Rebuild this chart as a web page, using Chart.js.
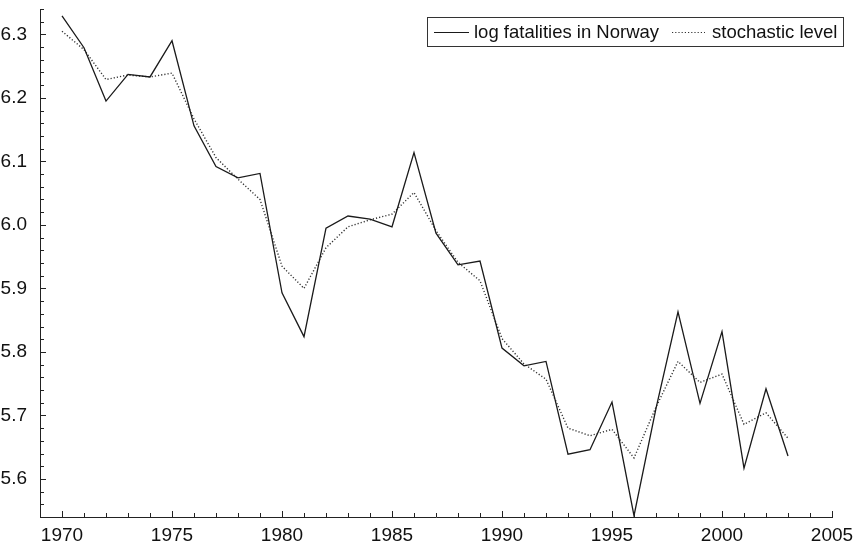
<!DOCTYPE html>
<html>
<head>
<meta charset="utf-8">
<script src="https://cdn.jsdelivr.net/npm/chart.js@4/dist/chart.umd.min.js"></script>
<style>
  html, body { margin: 0; padding: 0; background: #fff; }
  #wrap { width: 861px; height: 546px; }
</style>
</head>
<body>
<div id="wrap"><canvas id="chart"></canvas></div>
<script>
const years = [1970, 1971, 1972, 1973, 1974, 1975, 1976, 1977, 1978, 1979,
  1980, 1981, 1982, 1983, 1984, 1985, 1986, 1987, 1988, 1989,
  1990, 1991, 1992, 1993, 1994, 1995, 1996, 1997, 1998, 1999,
  2000, 2001, 2002, 2003]

const logFatalities = [6.329, 6.279, 6.195, 6.237, 6.233, 6.290, 6.156, 6.092, 6.074, 6.081,
  5.893, 5.824, 5.995, 6.014, 6.009, 5.997, 6.114, 5.987, 5.937, 5.943,
  5.806, 5.778, 5.785, 5.639, 5.646, 5.721, 5.542, 5.711, 5.863, 5.719,
  5.832, 5.617, 5.742, 5.636]

const stochasticLevel = [6.305, 6.276, 6.229, 6.236, 6.233, 6.239, 6.167, 6.106, 6.072, 6.040,
  5.935, 5.900, 5.964, 5.997, 6.008, 6.017, 6.051, 5.991, 5.941, 5.912,
  5.821, 5.781, 5.757, 5.680, 5.668, 5.678, 5.633, 5.713, 5.785, 5.752,
  5.765, 5.686, 5.704, 5.664]

const xTicks = [1970, 1975, 1980, 1985, 1990, 1995, 2000, 2005]
const yTicks = [5.6, 5.7, 5.8, 5.9, 6.0, 6.1, 6.2, 6.3]

const FONT = "'Liberation Sans', Arial, Helvetica, sans-serif"

// inward tick marks, minor every year / every 0.02
const innerTicks = {
  id: "innerTicks",
  afterDraw(chart) {
    const { ctx, chartArea: a, scales: { x, y } } = chart
    ctx.save()
    ctx.strokeStyle = "#222"
    ctx.lineWidth = 1
    ctx.beginPath()
    for (let yr = 1970; yr <= 2005; yr++) {
      const px = Math.round(x.getPixelForValue(yr)) + 0.5
      const len = yr % 5 === 0 ? 6 : 4
      ctx.moveTo(px, a.bottom)
      ctx.lineTo(px, a.bottom - len)
    }
    for (let i = 0; i <= 40; i++) {
      const v = 5.54 + i * 0.02
      const py = Math.round(y.getPixelForValue(v)) + 0.5
      const len = i % 5 === 3 ? 6 : 4
      ctx.moveTo(a.left, py)
      ctx.lineTo(a.left + len, py)
    }
    ctx.stroke()
    ctx.restore()
  }
}

// boxed legend in the upper right
const boxLegend = {
  id: "boxLegend",
  afterDraw(chart) {
    const ctx = chart.ctx
    const left = 427.5, top = 17.5, w = 416, h = 29
    ctx.save()
    ctx.fillStyle = "#fff"
    ctx.fillRect(left, top, w, h)
    ctx.strokeStyle = "#333"
    ctx.lineWidth = 1
    ctx.strokeRect(left, top, w, h)
    ctx.font = "18.5px " + FONT
    ctx.fillStyle = "#111"
    ctx.textBaseline = "middle"
    const cy = top + h / 2
    const items = [
      { x: 434, lineW: 35, textX: 474 },
      { x: 672, lineW: 33, textX: 712 }
    ]
    chart.data.datasets.forEach((ds, i) => {
      const it = items[i]
      ctx.beginPath()
      ctx.setLineDash(ds.borderDash || [])
      ctx.lineWidth = 1
      ctx.strokeStyle = ds.borderColor
      ctx.moveTo(it.x, Math.round(cy) + 0.5)
      ctx.lineTo(it.x + it.lineW, Math.round(cy) + 0.5)
      ctx.stroke()
      ctx.setLineDash([])
      ctx.fillText(ds.label, it.textX, cy + 1)
    })
    ctx.restore()
  }
}

new Chart(document.getElementById("chart"), {
  type: "line",
  data: {
    datasets: [
      {
        label: "log fatalities in Norway",
        data: years.map((yr, i) => ({ x: yr, y: logFatalities[i] })),
        borderColor: "#1a1a1a",
        borderWidth: 1.3,
        pointRadius: 0,
        tension: 0
      },
      {
        label: "stochastic level",
        data: years.map((yr, i) => ({ x: yr, y: stochasticLevel[i] })),
        borderColor: "#333",
        borderWidth: 1.4,
        borderDash: [1.2, 2],
        pointRadius: 0,
        tension: 0
      }
    ]
  },
  options: {
    responsive: true,
    maintainAspectRatio: false,
    animation: false,
    events: [],
    layout: { padding: { top: 9, right: 29, left: 0, bottom: 0 } },
    scales: {
      x: {
        type: "linear",
        min: 1969,
        max: 2005,
        afterBuildTicks: (s) => { s.ticks = xTicks.map(v => ({ value: v })) },
        afterFit: (s) => {
          s.height = 29
          s.paddingLeft = 0
          s.paddingRight = 0
        },
        grid: { display: false },
        border: { display: true, color: "#222", width: 1 },
        ticks: {
          color: "#111",
          font: { family: FONT, size: 19 },
          padding: -1,
          maxRotation: 0,
          autoSkip: false,
          callback: (v) => String(v)
        }
      },
      y: {
        type: "linear",
        min: 5.54,
        max: 6.34,
        afterBuildTicks: (s) => { s.ticks = yTicks.map(v => ({ value: v })) },
        afterFit: (s) => {
          s.width = 40
          s.paddingTop = 0
          s.paddingBottom = 0
        },
        grid: { display: false },
        border: { display: true, color: "#222", width: 1 },
        ticks: {
          color: "#111",
          font: { family: FONT, size: 19 },
          padding: 5,
          autoSkip: false,
          callback: (v) => Number(v).toFixed(1)
        }
      }
    },
    plugins: {
      legend: { display: false },
      tooltip: { enabled: false }
    }
  },
  plugins: [innerTicks, boxLegend]
})
</script>
</body>
</html>
